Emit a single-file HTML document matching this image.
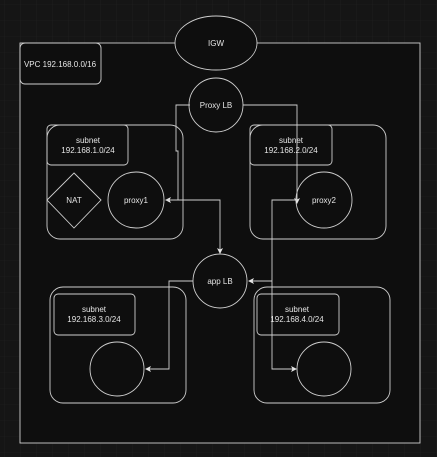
<!DOCTYPE html>
<html><head><style>
html,body{margin:0;padding:0;background:#151515;}
svg{display:block;}
text{font-family:"Liberation Sans",sans-serif;font-size:8px;fill:#e6e6e6;text-anchor:middle;}
</style></head><body>
<svg width="437" height="457" viewBox="0 0 437 457" xmlns="http://www.w3.org/2000/svg">
<defs>
<pattern id="g" width="16" height="16" patternUnits="userSpaceOnUse" x="4" y="4">
<path d="M16 0H0V16" fill="none" stroke="#222" stroke-width="0.6"/>
</pattern>
<marker id="a" markerWidth="6" markerHeight="6" refX="5" refY="3" orient="auto" markerUnits="userSpaceOnUse">
<path d="M0 0L6 3L0 6L1.5 3Z" fill="#e6e6e6"/>
</marker>
</defs>
<rect width="437" height="457" fill="#151515"/>
<rect width="437" height="457" fill="url(#g)"/>
<g stroke="#cfcfcf" stroke-width="0.9" fill="none">
<rect x="20" y="43" width="400" height="400" fill="#0e0e0e"/>
<rect x="20" y="43" width="81" height="41" rx="5"/>
<ellipse cx="216" cy="43" rx="41" ry="27" fill="#0e0e0e"/>
<circle cx="216" cy="105" r="27"/>
<rect x="47" y="125" width="136" height="114" rx="13"/>
<rect x="47" y="125" width="81" height="40" rx="4"/>
<path d="M74 173L101 200L74 228L47 200Z"/>
<circle cx="136" cy="200" r="28"/>
<rect x="250" y="125" width="136" height="114" rx="13"/>
<rect x="250" y="125" width="82" height="40" rx="4"/>
<circle cx="324" cy="200" r="28"/>
<circle cx="220" cy="281" r="27"/>
<rect x="50" y="287" width="136" height="116" rx="13"/>
<rect x="54" y="294" width="81" height="41" rx="4"/>
<circle cx="117" cy="369" r="27"/>
<rect x="254" y="287" width="136" height="116" rx="13"/>
<rect x="257" y="294" width="82" height="41" rx="4"/>
<circle cx="324" cy="369" r="27"/>
<path d="M190 105H176V151H178V200H166" marker-end="url(#a)"/>
<path d="M166 200H220V253" marker-end="url(#a)"/>
<path d="M243 105H297V203" marker-end="url(#a)"/>
<path d="M297 200H272V369H296" marker-end="url(#a)"/>
<path d="M272 281H249" marker-end="url(#a)"/>
<path d="M193 281H169V369H146" marker-end="url(#a)"/>
</g>
<text x="216" y="46">IGW</text>
<text x="60" y="67">VPC 192.168.0.0/16</text>
<text x="216" y="108">Proxy LB</text>
<text x="88" y="143">subnet</text>
<text x="88" y="153">192.168.1.0/24</text>
<text x="74" y="203">NAT</text>
<text x="136" y="203">proxy1</text>
<text x="291" y="143">subnet</text>
<text x="291" y="153">192.168.2.0/24</text>
<text x="324" y="203">proxy2</text>
<text x="220" y="284">app LB</text>
<text x="94" y="312">subnet</text>
<text x="94" y="322">192.168.3.0/24</text>
<text x="297" y="312">subnet</text>
<text x="297" y="322">192.168.4.0/24</text>
</svg>
</body></html>
